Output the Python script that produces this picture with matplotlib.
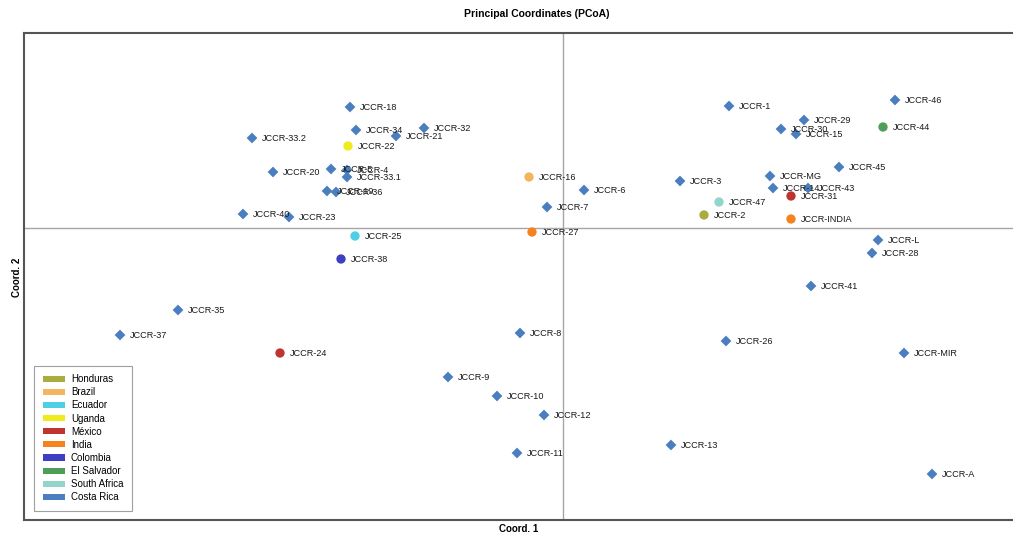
import matplotlib.pyplot as plt
from matplotlib.patches import Patch

##### Data (PCoA scores, arbitrary units)
cr_names = ['JCCR-18', 'JCCR-34', 'JCCR-21', 'JCCR-32', 'JCCR-33.2', 'JCCR-20',
            'JCCR-5', 'JCCR-4', 'JCCR-33.1', 'JCCR-19', 'JCCR-36', 'JCCR-40',
            'JCCR-23', 'JCCR-35', 'JCCR-37', 'JCCR-8', 'JCCR-9', 'JCCR-10',
            'JCCR-12', 'JCCR-11', 'JCCR-13', 'JCCR-26', 'JCCR-MIR', 'JCCR-A',
            'JCCR-41', 'JCCR-L', 'JCCR-28', 'JCCR-6', 'JCCR-7', 'JCCR-3',
            'JCCR-1', 'JCCR-46', 'JCCR-29', 'JCCR-30', 'JCCR-15', 'JCCR-45',
            'JCCR-MG', 'JCCR-14', 'JCCR-43']
cr_x = [-2.13, -2.07, -1.67, -1.39, -3.11, -2.90, -2.32, -2.16, -2.16, -2.36,
        -2.27, -3.20, -2.74, -3.85, -4.43, -0.43, -1.15, -0.66, -0.19, -0.46,
        1.08, 1.63, 3.41, 3.69, 2.48, 3.15, 3.09, 0.21, -0.16, 1.17,
        1.66, 3.32, 2.41, 2.18, 2.33, 2.76, 2.07, 2.10, 2.45]
cr_y = [1.21, 0.98, 0.92, 1.00, 0.90, 0.56, 0.59, 0.58, 0.51, 0.37,
        0.36, 0.14, 0.11, -0.82, -1.07, -1.05, -1.49, -1.68, -1.87, -2.25,
        -2.17, -1.13, -1.25, -2.46, -0.58, -0.12, -0.25, 0.38, 0.21, 0.47,
        1.22, 1.28, 1.08, 0.99, 0.94, 0.61, 0.52, 0.40, 0.40]

# other countries: one circle per accession
oth_names = ['JCCR-2', 'JCCR-16', 'JCCR-25', 'JCCR-22', 'JCCR-31', 'JCCR-24',
             'JCCR-INDIA', 'JCCR-27', 'JCCR-38', 'JCCR-44', 'JCCR-47']
oth_country = ['Honduras', 'Brazil', 'Ecuador', 'Uganda', 'México', 'México',
               'India', 'India', 'Colombia', 'El Salvador', 'South Africa']
oth_x = [1.41, -0.34, -2.08, -2.15, 2.28, -2.83, 2.28, -0.31, -2.22, 3.20, 1.56]
oth_y = [0.13, 0.51, -0.08, 0.82, 0.32, -1.25, 0.09, -0.04, -0.31, 1.01, 0.26]

countries = ['Honduras', 'Brazil', 'Ecuador', 'Uganda', 'México', 'India',
             'Colombia', 'El Salvador', 'South Africa', 'Costa Rica']
colors = ['#A8AD3E', '#F2B560', '#4FCFE6', '#F0EB1E', '#BE3530', '#F6821F',
          '#3F3FC4', '#4E9E5A', '#93D5CB', '#4A7EBF']
col = dict(zip(countries, colors))

##### Plot
fig = plt.figure(figsize=(10.13, 5.38), dpi=100)
ax = fig.add_axes([24 / 1013, 18 / 538, 989 / 1013, 487 / 538])
ax.set_xlim(-5.39, 4.50)
ax.set_ylim(-2.92, 1.95)

ax.axvline(0, color='#a6a6a6', lw=1, zorder=1)
ax.axhline(0, color='#a6a6a6', lw=1, zorder=1)

lab_font = dict(family='Liberation Sans', size=6.6, color='#1a1a1a')

ax.scatter(cr_x, cr_y, marker='D', s=30, color=col['Costa Rica'],
           edgecolors='none', zorder=3)
for n, x, y in zip(cr_names, cr_x, cr_y):
    ax.annotate(n, (x, y), xytext=(7, -0.5), textcoords='offset points',
                va='center', ha='left', zorder=4, **lab_font)

for n, c, x, y in zip(oth_names, oth_country, oth_x, oth_y):
    ax.scatter(x, y, marker='o', s=45, color=col[c], edgecolors='none', zorder=3)
    ax.annotate(n, (x, y), xytext=(7, -0.5), textcoords='offset points',
                va='center', ha='left', zorder=4, **lab_font)

ax.set_xticks([])
ax.set_yticks([])
for s in ['top', 'bottom', 'left']:
    ax.spines[s].set_color('#555555')
    ax.spines[s].set_linewidth(1.5)
ax.spines['right'].set_visible(False)

fig.text(537 / 1013, 1 - 14 / 538, 'Principal Coordinates (PCoA)',
         ha='center', va='center', fontsize=7.5, fontweight='bold',
         family='Liberation Sans')
fig.text(519 / 1013, 1 - 529 / 538, 'Coord. 1', ha='center', va='center',
         fontsize=7, fontweight='bold', family='Liberation Sans')
fig.text(17 / 1013, 1 - 277 / 538, 'Coord. 2', ha='center', va='center',
         rotation=90, fontsize=7, fontweight='bold', family='Liberation Sans')

handles = [Patch(facecolor=col[c], edgecolor='none', label=c) for c in countries]
leg = fig.legend(handles=handles, loc='lower left',
                 bbox_to_anchor=(34 / 1013, 27 / 538), borderaxespad=0,
                 prop={'family': 'Liberation Sans', 'size': 7},
                 handlelength=2.3, handleheight=0.6, labelspacing=0.32,
                 handletextpad=0.6, borderpad=0.9, fancybox=False,
                 edgecolor='#a0a0a0', framealpha=1)
leg.get_frame().set_linewidth(0.8)

fig.savefig('out.png', dpi=100)
